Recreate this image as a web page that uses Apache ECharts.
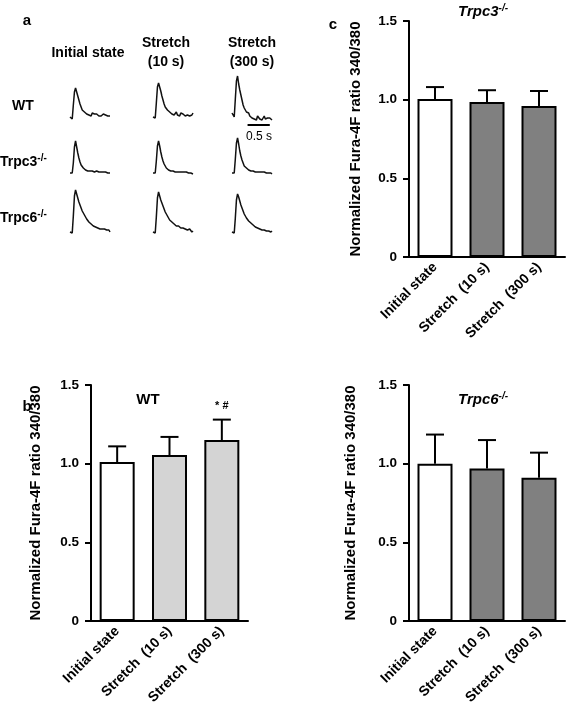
<!DOCTYPE html>
<html><head><meta charset="utf-8">
<script src="https://cdn.jsdelivr.net/npm/echarts@6/dist/echarts.min.js"></script>
<style>html,body{margin:0;padding:0;background:#fff}#c{width:568px;height:703px}</style>
</head><body><div id="c"></div>
<script>
// ---- Panel a: Ca2+ transient traces (time in ms, amplitude in arbitrary units) ----
const traceTime = [0,25,50,75,100,125,150,175,200,225,250,275,300,325,350,375,400,425,450,475,500,525,550,575,600,625,650,675,700,725,750,775,800,825,850,875,900];
const WT_init   = [0,-1,-2,12,25, 29,25,21,17,13, 10,7,8,5,6, 3,5,2,4,1, 4,2,3,1,3, 2,1,3,1,2, 3,1,2,3,1, 2,1];
const WT_10     = [0,-1,-1,14,30, 34,30,26,21,17, 13,10,9,7,8, 5,6,3,5,2, 4,5,2,3,1, 4,2,3,5,1, 3,2,4,1,3, 2,4];
const WT_300    = [4,3,0,18,36, 41,33,27,22,17, 12,9,7,5,3, 4,1,2,-1,1, -2,0,-3,1,-1, -2,0,-3,-1,1, -2,0,-1,-3,-1, -2,-3];
const Trpc3_init= [0,0,0,10,26, 32,26,20,15,11, 8,6,5,4,3, 3,2,2,2,1, 2,1,1,1,2, 1,1,1,1,0, 1,0,1,0,0, 0,0];
const Trpc3_10  = [0,0,0,12,27, 32,27,21,16,12, 9,7,5,4,3, 3,2,2,2,2, 1,1,1,1,1, 1,1,0,1,0, 1,0,0,0,0, 0,-1];
const Trpc3_300 = [0,0,0,14,30, 35,29,22,17,13, 10,7,6,5,4, 3,3,2,2,2, 1,1,1,1,1, 1,0,1,0,1, 0,0,0,0,0, 0,-1];
const Trpc6_init= [0,0,-1,16,36, 42,38,34,30,27, 24,21,19,17,15, 13,12,10,9,8, 7,6,7,5,6, 4,5,3,4,3, 2,3,1,2,1, 2,0];
const Trpc6_10  = [0,0,-1,15,34, 40,36,32,29,26, 23,20,18,16,14, 12,11,10,9,8, 7,6,5,6,4, 4,3,4,2,3, 2,2,1,3,1, 0,1];
const Trpc6_300 = [0,0,-1,14,32, 38,35,31,27,24, 21,18,16,14,13, 11,10,9,8,7, 6,5,6,4,4, 3,4,2,3,2, 2,1,2,1,1, 0,1];
const scaleBarTime = [350, 850];   // 0.5 s
const scaleBarLevel = -8;

// ---- Panels b, c, d: bar charts ----
const barCategories = ['Initial state', 'Stretch  (10 s)', 'Stretch  (300 s)'];
const wtMean    = [1.01, 1.055, 1.15];
const wtSem     = [0.10, 0.115, 0.13];
const wtSig     = ['', '', '* #'];
const trpc3Mean = [1.005, 0.985, 0.96];
const trpc3Sem  = [0.075, 0.075, 0.095];
const trpc6Mean = [1.0, 0.97, 0.91];
const trpc6Sem  = [0.185, 0.18, 0.16];
const noSig     = ['', '', ''];
const yMin = 0, yMax = 1.5, yStep = 0.5;

const FONT = '"Liberation Sans", Arial, sans-serif';
const traces = [WT_init, WT_10, WT_300, Trpc3_init, Trpc3_10, Trpc3_300, Trpc6_init, Trpc6_10, Trpc6_300];
const colLeft = [70, 153, 232];
const rowTop = [72, 128, 187];

const grid = [], xAxis = [], yAxis = [], series = [];
traces.forEach((tr, k) => {
  const r = Math.floor(k / 3), c = k % 3;
  grid.push({left: colLeft[c], top: rowTop[r], width: 40, height: 55, outerBoundsMode: 'none', containLabel: false});
  xAxis.push({gridIndex: k, type: 'value', min: 0, max: 900, show: false});
  yAxis.push({gridIndex: k, type: 'value', min: -10, max: 45, show: false});
  series.push({type: 'line', xAxisIndex: k, yAxisIndex: k, data: traceTime.map((t, i) => [t, tr[i]]),
    showSymbol: false, symbol: 'none', clip: false, lineStyle: {color: '#111', width: 1.5}, animation: false});
});
// scale bar on WT 300 s trace
series.push({type: 'line', xAxisIndex: 2, yAxisIndex: 2, data: scaleBarTime.map(t => [t, scaleBarLevel]),
  symbol: 'none', clip: false, lineStyle: {color: '#000', width: 2}, animation: false});

function addBarPanel(gi, g, means, sems, sigs, fill, nameGap) {
  grid.push(Object.assign({outerBoundsMode: 'none', containLabel: false}, g));
  xAxis.push({gridIndex: gi, type: 'category', data: barCategories, boundaryGap: true,
    axisLine: {lineStyle: {color: '#000', width: 2}},
    axisTick: {alignWithLabel: true, length: 5, lineStyle: {color: '#000', width: 2}},
    axisLabel: {rotate: 45, interval: 0, margin: 8, color: '#000', fontWeight: 'bold', fontSize: 14, fontFamily: FONT}});
  yAxis.push({gridIndex: gi, type: 'value', min: yMin, max: yMax, interval: yStep,
    name: 'Normalized Fura-4F ratio 340/380', nameLocation: 'middle', nameGap: nameGap,
    nameTextStyle: {color: '#000', fontWeight: 'bold', fontSize: 15, fontFamily: FONT},
    axisLine: {show: true, lineStyle: {color: '#000', width: 2}},
    axisTick: {show: true, length: 6, lineStyle: {color: '#000', width: 2}},
    splitLine: {show: false},
    axisLabel: {margin: 12, color: '#000', fontWeight: 'bold', fontSize: 13.5, fontFamily: FONT,
      formatter: v => v === 0 ? '0' : v.toFixed(1)}});
  series.push({type: 'bar', xAxisIndex: gi, yAxisIndex: gi, barWidth: 35, animation: false,
    data: means.map((v, i) => ({value: v, itemStyle: {color: i === 0 ? '#ffffff' : fill, borderColor: '#000', borderWidth: 2}})),
    z: 2});
  series.push({type: 'custom', xAxisIndex: gi, yAxisIndex: gi, z: 3, animation: false,
    data: means.map((v, i) => [i, v, sems[i], sigs[i]]),
    renderItem: (params, api) => {
      const i = api.value(0), m = api.value(1), s = api.value(2);
      const base = api.coord([i, m]);
      const top = api.coord([i, m + s]);
      const half = 9;
      const children = [
        {type: 'line', shape: {x1: base[0], y1: base[1], x2: top[0], y2: top[1]}, style: {stroke: '#000', lineWidth: 2}},
        {type: 'line', shape: {x1: top[0] - half, y1: top[1], x2: top[0] + half, y2: top[1]}, style: {stroke: '#000', lineWidth: 2}}
      ];
      const sig = sigs[params.dataIndex];
      if (sig) children.push({type: 'text', x: top[0], y: top[1] - 8,
        style: {text: sig, textAlign: 'center', textVerticalAlign: 'bottom', font: 'bold 11px ' + FONT, fill: '#000'}});
      return {type: 'group', children};
    }});
}
addBarPanel(9,  {left: 91,  top: 385, width: 157, height: 236}, wtMean, wtSem, wtSig, '#d4d4d4', 48);
addBarPanel(10, {left: 409, top: 21,  width: 156, height: 236}, trpc3Mean, trpc3Sem, noSig, '#808080', 46);
addBarPanel(11, {left: 409, top: 385, width: 156, height: 236}, trpc6Mean, trpc6Sem, noSig, '#808080', 51);

const txt = (x, y, text, opt = {}) => ({type: 'text', x, y, style: Object.assign({text, fill: '#000',
  font: (opt.font || 'bold 14px ') + FONT, textAlign: opt.align || 'center', textVerticalAlign: 'middle'}, opt.extra || {})});
const supText = (x, y, base, sup, italic, align, size) => ({type: 'text', x, y, style: {
  text: '{b|' + base + '}{s|' + sup + '}', textAlign: align, textVerticalAlign: 'middle', fill: '#000',
  rich: {b: {fontFamily: FONT, fontWeight: 'bold', fontStyle: italic ? 'italic' : 'normal', fontSize: size, fill: '#000', lineHeight: 17},
         s: {fontFamily: FONT, fontWeight: 'bold', fontStyle: italic ? 'italic' : 'normal', fontSize: 10, fill: '#000', verticalAlign: 'top', lineHeight: 17}}}});

const graphic = [
  txt(27, 21, 'a', {font: 'bold 15px '}),
  txt(27, 407, 'b', {font: 'bold 15px '}),
  txt(333, 25, 'c', {font: 'bold 15px '}),
  txt(88, 53, 'Initial state'),
  txt(166, 43, 'Stretch'), txt(166, 62, '(10 s)'),
  txt(252, 43, 'Stretch'), txt(252, 62, '(300 s)'),
  txt(12, 106, 'WT', {align: 'left'}),
  supText(0, 162, 'Trpc3', '-/-', false, 'left', 14),
  supText(0, 218, 'Trpc6', '-/-', false, 'left', 14),
  txt(259, 137, '0.5 s', {font: '12px '}),
  supText(483, 12, 'Trpc3', '-/-', true, 'center', 15),
  txt(148, 400, 'WT', {font: 'bold 15px '}),
  supText(483, 400, 'Trpc6', '-/-', true, 'center', 15)
];

const chart = echarts.init(document.getElementById('c'), null, {renderer: 'canvas'});
chart.setOption({animation: false, backgroundColor: '#fff', grid, xAxis, yAxis, series, graphic});
</script></body></html>
